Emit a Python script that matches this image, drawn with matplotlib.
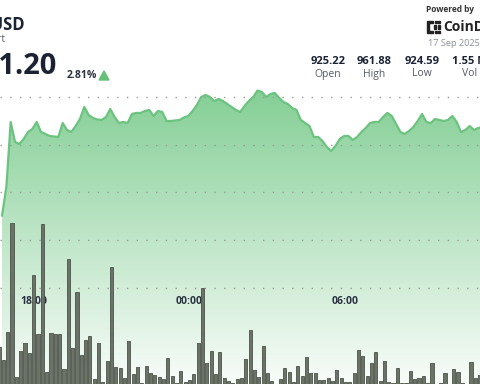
import numpy as np
import matplotlib
matplotlib.use("Agg")
import matplotlib.pyplot as plt
from matplotlib.patches import Rectangle

plt.rcParams["font.family"] = ["Open Sans", "DejaVu Sans"]

# 10-minute closes, 16:40 -> 11:10
prices = [
    925.22, 933.60, 952.67, 946.80, 946.21, 947.68, 949.73, 950.61, 952.67, 949.73,
    949.15, 948.56, 948.41, 948.27, 952.37, 950.32, 949.73, 951.49, 953.55, 957.07,
    954.72, 953.84, 953.40, 953.25, 954.13, 956.48, 954.13, 952.37, 952.67, 952.37,
    955.01, 955.31, 955.31, 955.89, 956.19, 954.43, 955.89, 955.60, 952.96, 952.96,
    953.11, 953.25, 953.99, 954.43, 955.89, 957.65, 960.00, 960.59, 960.00, 958.83,
    959.41, 958.83, 957.95, 957.07, 956.19, 955.60, 957.36, 958.83, 960.00, 961.88,
    961.47, 960.00, 960.88, 961.17, 959.71, 958.53, 957.95, 956.77, 956.19, 953.25,
    952.37, 951.49, 948.27, 948.27, 947.09, 945.34, 944.16, 945.63, 947.68, 948.56,
    948.56, 947.39, 948.27, 949.73, 950.91, 952.37, 952.67, 952.67, 954.13, 955.31,
    954.43, 952.08, 949.73, 949.15, 950.03, 951.20, 952.96, 955.01, 952.67, 952.37,
    953.55, 953.25, 952.96, 953.25, 954.43, 952.67, 949.73, 950.32, 951.49, 950.32,
    950.91, 951.20]

# volume per 10-minute bar (thousands)
volumes = [
    37, 24, 52, 161, 7, 33, 41, 31, 109, 50, 160, 12, 51, 50, 50, 15, 125, 36, 92, 29,
    44, 48, 5, 41, 2, 23, 117, 17, 16, 6, 43, 10, 17, 1, 18, 11, 9, 7, 5, 26,
    8, 1, 13, 2, 4, 10, 41, 96, 21, 33, 10, 32, 6, 3, 1, 5, 6, 25, 54, 14,
    7, 38, 11, 3, 0.5, 5, 16, 12, 2, 18, 8, 27, 11, 11, 4, 4, 6, 3, 14, 6,
    2, 2, 11, 34, 28, 8, 21, 32, 3, 23, 2, 1, 16, 1, 1, 13, 5, 6, 8, 1,
    21, 0.5, 1, 11, 0.5, 15, 12, 1, 0.5, 22, 6, 9]

grid_levels = [904, 918, 932, 946, 960]
time_labels = ["18:00", "00:00", "06:00"]
time_index = [8, 44, 80]

stat_values = ["925.22", "961.88", "924.59", "1.55 M"]
stat_names = ["Open", "High", "Low", "Vol"]

W, H = 480, 384
fig = plt.figure(figsize=(4.8, 3.84), dpi=100)
ax = fig.add_axes([0, 0, 1, 1])
ax.set_xlim(0.23, 111.08)
ax.set_ylim(875.8, 988.45)
ax.axis("off")

x_line = np.arange(len(prices)) + 0.7
x_bar = np.arange(len(volumes))

# gradient area under the price line
green = np.array([0.36, 0.75, 0.45])
img = np.zeros((256, 1, 4))
img[..., :3] = green
img[..., 3] = np.linspace(0.04, 0.75, 256)[:, None]
y0 = ax.get_ylim()[0]
im = ax.imshow(img, origin="lower", aspect="auto", interpolation="bilinear",
               extent=[0, 112, y0, max(prices)], zorder=1)
poly = ax.fill_between(x_line, prices, y0, color="none", lw=0)
im.set_clip_path(poly.get_paths()[0], transform=ax.transData)
ax.plot(x_line, prices, color="#6cc37f", lw=1.6, zorder=3)

for lv in grid_levels:
    ax.axhline(lv, color="#9c9c9c", lw=1.0, ls=(0, (1, 6)), zorder=2)

for lab, i in zip(time_labels, time_index):
    ax.text(i, 0.214, lab, transform=ax.get_xaxis_transform(), ha="center", va="center",
            fontsize=7.5, fontweight="bold", color="#2b3140", zorder=5)

# volume bars
axv = ax.twinx()
axv.set_ylim(0, 384)
axv.axis("off")
axv.bar(x_bar, volumes, width=0.72, color="#6b7267", edgecolor="#4c5349", lw=0.6)


def ftext(x, y, s, **kw):
    fig.text(x / W, 1 - y / H, s, **kw)


navy = "#1b2233"
ftext(25, 25, "BNB/USD", ha="right", va="center", fontsize=12, fontweight="bold", color=navy)
ftext(5, 39, "24H Chart", ha="right", va="center", fontsize=7, color="#555b66")
ftext(56, 66, "951.20", ha="right", va="center", fontsize=21, fontweight="bold", color=navy)
ftext(67, 75, "2.81%", ha="left", va="center", fontsize=7.5, fontweight="bold", color="#2b3140")
fig.patches.append(plt.Polygon([[99 / W, 1 - 80 / H], [109 / W, 1 - 80 / H], [104 / W, 1 - 71 / H]],
                               closed=True, transform=fig.transFigure, color="#66c07a"))

ftext(426, 10, "Powered by", ha="left", va="center", fontsize=6, fontweight="bold", color="#333")
ftext(443, 27, "CoinDesk", ha="left", va="center", fontsize=10, fontweight="bold", color="#222")
for rx, ry, rw, rh in [(427, 21, 2, 12), (429, 21, 4, 2), (429, 31, 4, 2),
                       (435, 21, 2, 2), (435, 31, 2, 2), (438, 21, 2, 2), (438, 31, 2, 2),
                       (438, 25, 2, 4), (434, 25, 2, 4)]:
    fig.patches.append(Rectangle((rx / W, 1 - (ry + rh) / H), rw / W, rh / H,
                                 transform=fig.transFigure, color="#222"))
ftext(428, 44, "17 Sep 2025", ha="left", va="center", fontsize=6.6, color="#8a8f98")

for cx, v, n in zip([328, 374, 422, 470], stat_values, stat_names):
    ftext(cx, 61, v, ha="center", va="center", fontsize=8, fontweight="bold", color=navy)
    ftext(cx, 74, n, ha="center", va="center", fontsize=7.5, color="#555b66")

fig.savefig("out.png", dpi=100)
